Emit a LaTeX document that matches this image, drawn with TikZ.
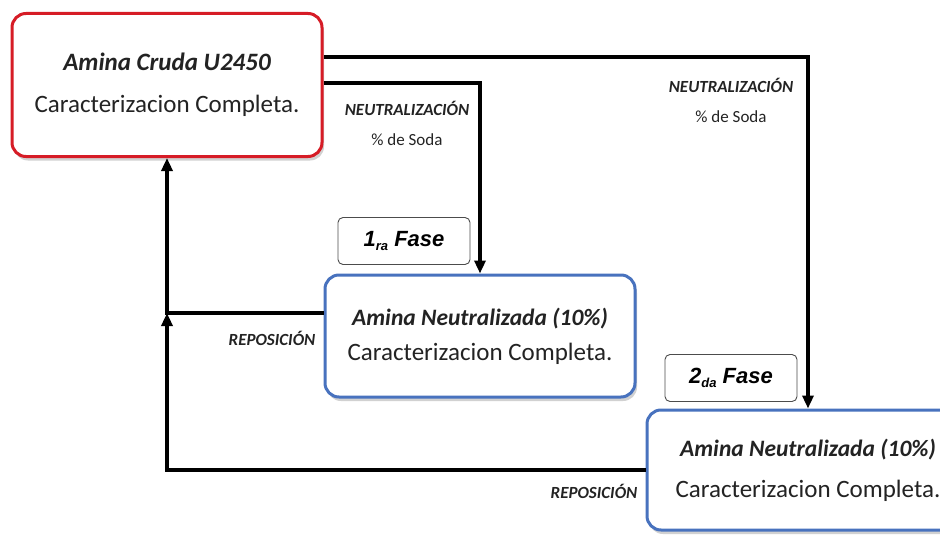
\documentclass[tikz,border=0pt]{standalone}
\usepackage{fontspec}
\setmainfont{Carlito}
\newfontfamily\arialfont{Liberation Sans}
\usepackage{tikz}
\usetikzlibrary{arrows.meta,shadows}
\definecolor{crudered}{RGB}{214,28,38}
\definecolor{neutblue}{RGB}{72,114,190}
\definecolor{textgray}{RGB}{35,35,35}

\begin{document}
\begin{tikzpicture}[x=1pt,y=-1pt,>={Triangle[width=11pt,length=13pt]},
    box/.style={rounded corners=14pt,line width=3pt,fill=white,align=center,text=textgray,
      font=\fontsize{25}{42}\selectfont,
      drop shadow={shadow xshift=2pt,shadow yshift=-4pt,opacity=.3,fill=black!60}},
    fasebox/.style={rounded corners=5pt,draw=black!70,line width=0.9pt,fill=white,
      minimum width=132pt,minimum height=47pt,
      font=\arialfont\bfseries\itshape\fontsize{22}{24}\selectfont},
    lbl/.style={align=center,text=textgray,font=\fontsize{17}{30}\selectfont},
    flow/.style={line width=3.4pt,->}]
        \useasboundingbox (0,0) rectangle (940,535);
        \clip (0,0) rectangle (940,535);
        % boxes
        \node[box,draw=crudered,minimum width=310pt,minimum height=143pt] (crude) at (167,85)
          {{\bfseries\itshape Amina Cruda U2450}\\Caracterizacion Completa.};
        \node[box,draw=neutblue,minimum width=310pt,minimum height=122pt,
          font=\fontsize{25}{35}\selectfont] (neut1) at (480,336)
          {{\bfseries\itshape\fontsize{23.5}{35}\selectfont Amina Neutralizada (10\%)}\\Caracterizacion Completa.};
        \node[box,draw=neutblue,minimum width=322pt,minimum height=120pt,
          font=\fontsize{25}{41}\selectfont] (neut2) at (808,470)
          {{\bfseries\itshape\fontsize{23.5}{41}\selectfont Amina Neutralizada (10\%)}\\Caracterizacion Completa.};
        \node[fasebox] (fase1) at (404,241)
          {1\raisebox{-0.3ex}{\fontsize{13}{13}\selectfont ra} Fase};
        \node[fasebox] (fase2) at (731,378)
          {2\raisebox{-0.3ex}{\fontsize{13}{13}\selectfont da} Fase};
        % labels
        \node[lbl] (soda1) at (407,123) {{\bfseries\itshape NEUTRALIZACIÓN}\\\% de Soda};
        \node[lbl] (soda2) at (731,100) {{\bfseries\itshape NEUTRALIZACIÓN}\\\% de Soda};
        \node[lbl,font=\bfseries\itshape\fontsize{17}{19}\selectfont] (repo1) at (272,338) {REPOSICIÓN};
        \node[lbl,font=\bfseries\itshape\fontsize{17}{19}\selectfont] (repo2) at (594,491) {REPOSICIÓN};
        % connectors
        \draw[flow] ([yshift=28pt]crude.east) -| (neut2.north);
        \draw[flow] ([yshift=2pt]crude.east) -| (neut1.north);
        \draw[flow] ([yshift=23pt]neut1.west) -| coordinate (jn) (crude.south);
        \draw[flow] (neut2.west) -| (jn);
\end{tikzpicture}
\end{document}
